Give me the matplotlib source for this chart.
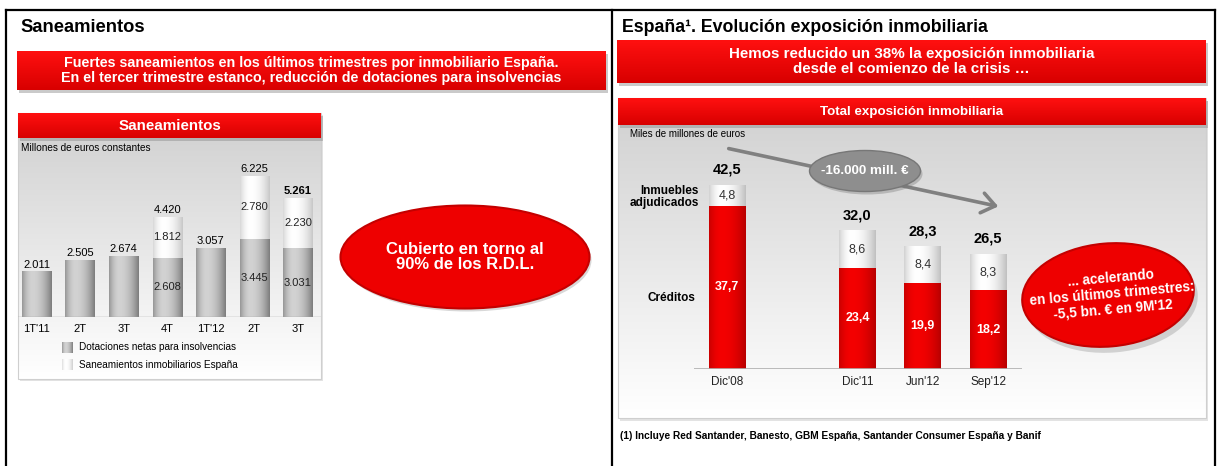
import numpy as np
import matplotlib
matplotlib.use("Agg")
import matplotlib.pyplot as plt
import matplotlib.colors as mcolors
from matplotlib.patches import Rectangle, Ellipse, FancyArrowPatch

plt.rcParams['font.family'] = ['Liberation Sans', 'DejaVu Sans']

# ---------------- data ----------------
san_categories = ["1T'11", "2T", "3T", "4T", "1T'12", "2T", "3T"]
san_dotaciones = [2011, 2505, 2674, 2608, 3057, 3445, 3031]
san_inmobiliario = [0, 0, 0, 1812, 0, 2780, 2230]
san_totals = [2011, 2505, 2674, 4420, 3057, 6225, 5261]
san_series = ["Dotaciones netas para insolvencias", "Saneamientos inmobiliarios España"]

exp_categories = ["Dic'08", "Dic'11", "Jun'12", "Sep'12"]
exp_creditos = [37.7, 23.4, 19.9, 18.2]
exp_inmuebles = [4.8, 8.6, 8.4, 8.3]
exp_totals = [42.5, 32.0, 28.3, 26.5]
exp_series = ["Inmuebles\nadjudicados", "Créditos"]
exp_reduction = "-16.000 mill. €"

# ---------------- layout ----------------
W, H = 1221, 466
fig = plt.figure(figsize=(W / 100, H / 100), dpi=100)
bg = fig.add_axes([0, 0, 1, 1], zorder=0)
bg.axis('off')

NARROW = ['Liberation Sans Narrow', 'Liberation Sans', 'DejaVu Sans']


def rgb(c):
    return np.array(mcolors.to_rgb(c))


def vgrad(ax, x0, y0, x1, y1, ctop, cbot, z=1):
    t = np.linspace(0, 1, 64)[:, None]
    img = (rgb(ctop) * (1 - t) + rgb(cbot) * t)[:, None, :]
    ax.imshow(img, extent=(x0, x1, y1, y0), origin='upper', aspect='auto',
              zorder=z, interpolation='bilinear')


def hprofile(edge, peak, n=64):
    t = np.linspace(0, 1, n)
    f = np.where(t < 0.35, 1 - ((0.35 - t) / 0.35) ** 2 * 0.7,
                 1 - ((t - 0.35) / 0.65) ** 2)
    e, p = rgb(edge), rgb(peak)
    return (e[None, :] + (p - e)[None, :] * f[:, None])[None, :, :]


def shade_patches(ax, patches, edge, peak, z):
    img = hprofile(edge, peak)
    for pt in patches:
        x, y, w, h = pt.get_x(), pt.get_y(), pt.get_width(), pt.get_height()
        if h <= 0:
            continue
        im = ax.imshow(img, extent=(x, x + w, y, y + h), aspect='auto',
                       zorder=z, interpolation='bilinear')
        im.set_clip_path(pt)


def red_bar(x0, y0, x1, y1, text, fs, z=2):
    bg.add_patch(Rectangle((x0 + 2, y0 + 3), x1 - x0, y1 - y0,
                           facecolor='#8a8a8a', alpha=0.45, lw=0, zorder=z - 0.5))
    vgrad(bg, x0, y0, x1, y1, '#ff1010', '#d80000', z=z)
    bg.text((x0 + x1) / 2, (y0 + y1) / 2, text, color='white', fontsize=fs,
            fontweight='bold', ha='center', va='center', zorder=z + 1,
            linespacing=1.1)


def px_axes(x0, y0, x1, y1):
    a = fig.add_axes([x0 / W, 1 - y1 / H, (x1 - x0) / W, (y1 - y0) / H], zorder=2)
    a.patch.set_alpha(0)
    a.axis('off')
    return a


# ---------------- frame ----------------
for (xa, ya, xb, yb) in [(6, 9.5, 1215, 9.5), (6, 9.5, 6, 466),
                         (612, 9.5, 612, 466), (1215, 9.5, 1215, 466)]:
    bg.plot([xa, xb], [ya, yb], color='black', lw=1.6, zorder=5,
            solid_capstyle='projecting')

# ---------------- titles & banners ----------------
bg.text(20, 27, "Saneamientos", fontsize=13.2, fontweight='bold', va='center',
        ha='left', zorder=6)
bg.text(622, 27, "España¹. Evolución exposición inmobiliaria", fontsize=12.8,
        fontweight='bold', va='center', ha='left', zorder=6)

red_bar(17, 51, 606, 90,
        "Fuertes saneamientos en los últimos trimestres por inmobiliario España.\n"
        "En el tercer trimestre estanco, reducción de dotaciones para insolvencias", 10.3)
red_bar(617, 40, 1206, 83,
        "Hemos reducido un 38% la exposición inmobiliaria\n"
        "desde el comienzo de la crisis …", 10.9)

# ---------------- left chart box ----------------
bg.add_patch(Rectangle((20, 115), 321 - 18, 379 - 113, facecolor='#b0b0b0',
                       alpha=0.35, lw=0, zorder=0.5))
vgrad(bg, 18, 138, 321, 379, '#d4d4d4', '#ffffff', z=1)
bg.add_patch(Rectangle((18, 113), 321 - 18, 379 - 113, facecolor='none',
                       edgecolor='#cfcfcf', lw=0.8, zorder=1.5))
red_bar(18, 113, 321, 138, "Saneamientos", 10.9)
bg.text(21, 148, "Millones de euros constantes", fontsize=7.2, va='center',
        ha='left', zorder=3)

# legend
leg_cols = [('#7d7d7d', '#d2d2d2'), ('#cfcfcf', '#ffffff')]
for i, (name, (ce, cp)) in enumerate(zip(san_series, leg_cols)):
    yc = 347.5 + i * 17.5
    bg.imshow(hprofile(ce, cp), extent=(62, 73, yc + 5.5, yc - 5.5),
              aspect='auto', zorder=3, interpolation='bilinear')
    bg.text(79, yc, name, fontsize=7.2, va='center', ha='left', zorder=3)

# left bar chart
axL = px_axes(18, 140, 321, 317)
xL = np.arange(len(san_categories))
wL = 0.67
bars_low = axL.bar(xL, san_dotaciones, width=wL, color='#a8a8a8', zorder=2)
bars_up = axL.bar(xL, san_inmobiliario, width=wL, bottom=san_dotaciones,
                  color='#f4f4f4', zorder=2)
shade_patches(axL, bars_low, '#7d7d7d', '#d2d2d2', 2.5)
shade_patches(axL, bars_up, '#c8c8c8', '#ffffff', 2.5)
axL.axhline(0, color='#a0a0a0', lw=1, zorder=3)


def fmt_th(v):
    return f"{v:,}".replace(",", ".")


for i, (lo, up, tot) in enumerate(zip(san_dotaciones, san_inmobiliario, san_totals)):
    last = i == len(san_totals) - 1
    axL.annotate(fmt_th(tot), (xL[i], tot), xytext=(0, 5), textcoords='offset points',
                 ha='center', va='center', fontsize=8,
                 fontweight='bold' if last else 'normal', zorder=4)
    if up > 0:
        axL.text(xL[i], lo / 2, fmt_th(lo), ha='center', va='center', fontsize=8,
                 color='#222222', zorder=4)
        axL.text(xL[i], lo + up / 2, fmt_th(up), ha='center', va='center',
                 fontsize=8, color='#222222', zorder=4)
    axL.annotate(san_categories[i], (xL[i], 0), xytext=(0, -8.6),
                 textcoords='offset points', ha='center', va='center',
                 fontsize=8, zorder=4)
axL.set_xlim(-0.424, 6.528)
axL.set_ylim(0, 7815)

# left ellipse
bg.add_patch(Ellipse((467, 260), 249, 103, facecolor='#909090', alpha=0.35,
                     lw=0, zorder=2))
bg.add_patch(Ellipse((465, 257), 249, 103, facecolor='#ee0000',
                     edgecolor='#c40000', lw=1.5, zorder=3))
bg.text(465, 257, "Cubierto en torno al\n90% de los R.D.L.", color='white',
        fontsize=12, fontweight='bold', ha='center', va='center',
        linespacing=1.0, zorder=4)

# ---------------- right chart box ----------------
bg.add_patch(Rectangle((620, 101), 1206 - 618, 418 - 98, facecolor='#b0b0b0',
                       alpha=0.35, lw=0, zorder=0.5))
vgrad(bg, 618, 125, 1206, 418, '#d4d4d4', '#ffffff', z=1)
bg.add_patch(Rectangle((618, 98), 1206 - 618, 418 - 98, facecolor='none',
                       edgecolor='#cfcfcf', lw=0.8, zorder=1.5))
red_bar(618, 98, 1206, 125, "Total exposición inmobiliaria", 9.6)
bg.text(630, 134, "Miles de millones de euros", fontsize=7.0, va='center',
        ha='left', zorder=3, family=NARROW)

bg.text(699, 197, exp_series[0], fontsize=8.5, fontweight='bold', ha='right',
        va='center', zorder=3, family=NARROW, linespacing=1.1)
bg.text(695, 298, exp_series[1], fontsize=8.5, fontweight='bold', ha='right',
        va='center', zorder=3, family=NARROW)

axR = px_axes(694, 140, 1022, 369)
exp_xpos = np.array([0, 2, 3, 4])
wR = 0.565
bars_c = axR.bar(exp_xpos, exp_creditos, width=wR, color='#ee0000', zorder=2)
bars_i = axR.bar(exp_xpos, exp_inmuebles, width=wR, bottom=exp_creditos,
                 color='#f4f4f4', zorder=2)
shade_patches(axR, bars_c, '#b80000', '#f40000', 2.5)
shade_patches(axR, bars_i, '#c0c0c0', '#ffffff', 2.5)
axR.axhline(0, color='#b0b0b0', lw=1.2, zorder=3)


def fmt_dec(v):
    return f"{v:.1f}".replace(".", ",")


for i, (c, m, tot) in enumerate(zip(exp_creditos, exp_inmuebles, exp_totals)):
    x = exp_xpos[i]
    axR.annotate(fmt_dec(tot), (x, tot), xytext=(0, 11), textcoords='offset points',
                 ha='center', va='center', fontsize=10.5, fontweight='bold',
                 zorder=4, family=NARROW)
    axR.text(x, c / 2, fmt_dec(c), ha='center', va='center', fontsize=9,
             fontweight='bold', color='white', zorder=4, family=NARROW)
    axR.text(x, c + m / 2, fmt_dec(m), ha='center', va='center', fontsize=9,
             color='#333333', zorder=4, family=NARROW)
    axR.annotate(exp_categories[i], (x, 0), xytext=(0, -9.4),
                 textcoords='offset points', ha='center', va='center',
                 fontsize=8.5, color='#222222', zorder=4, family=NARROW)
axR.set_xlim(-0.506, 4.521)
axR.set_ylim(0, 229 / 4.33)

# trend arrow with grey ellipse
bg.add_patch(FancyArrowPatch((726, 148), (1001, 207),
                             arrowstyle='->,head_length=0.6,head_width=0.45',
                             mutation_scale=16, color='#808080', lw=2.6,
                             zorder=3))
bg.add_patch(Ellipse((867, 174), 111, 41, facecolor='#707070', alpha=0.35,
                     lw=0, zorder=3.5))
bg.add_patch(Ellipse((865, 171), 111, 41, facecolor='#8e8e8e',
                     edgecolor='#777777', lw=1, zorder=4))
bg.text(865, 171, exp_reduction, color='white', fontsize=9.7,
        fontweight='bold', ha='center', va='center', zorder=5, family=NARROW)

# right red ellipse
bg.add_patch(Ellipse((1112, 301), 172, 103, angle=-5, facecolor='#909090',
                     alpha=0.35, lw=0, zorder=3))
bg.add_patch(Ellipse((1108, 295), 172, 103, angle=-5, facecolor='#ee0000',
                     edgecolor='#c40000', lw=1.5, zorder=4))
bg.text(1112, 294, "... acelerando\nen los últimos trimestres:\n-5,5 bn. € en 9M'12",
        color='white', fontsize=9.8, fontweight='bold', ha='center',
        va='center', rotation=5, rotation_mode='anchor', linespacing=1.12,
        zorder=5, family=NARROW)

# footnote
bg.text(620, 436, "(1) Incluye Red Santander, Banesto, GBM España, Santander Consumer España y Banif",
        fontsize=7.3, fontweight='bold', ha='left', va='center', zorder=3)

bg.set_xlim(0, W)
bg.set_ylim(H, 0)

fig.savefig("out.png", dpi=100)
